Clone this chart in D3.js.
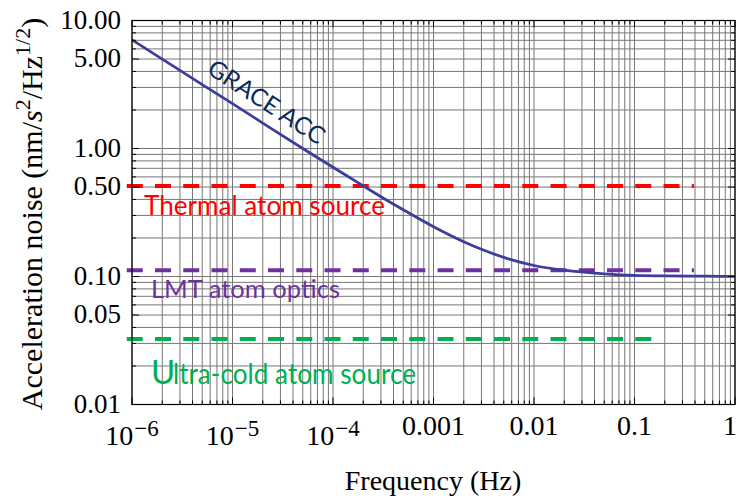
<!DOCTYPE html>
<html>
<head>
<meta charset="utf-8">
<script src="https://cdn.jsdelivr.net/npm/d3@7"></script>
<style>
  html, body { margin: 0; padding: 0; background: #fff; }
  svg { display: block; }
</style>
</head>
<body>
<svg id="chart" width="736" height="498"></svg>
<script>
// ---- data ----
const frequency = [1e-6, 2e-6, 5e-6, 1e-5, 2e-5, 5e-5, 1e-4, 2e-4, 3e-4, 5e-4, 1e-3, 2e-3, 3e-3, 5e-3, 1e-2, 2e-2, 5e-2, 0.1, 0.2, 0.5, 1];
const graceNoise = [7.07, 5.00, 3.16, 2.24, 1.58, 1.00, 0.714, 0.510, 0.420, 0.332, 0.245, 0.187, 0.163, 0.141, 0.122, 0.112, 0.105, 0.102, 0.101, 0.1005, 0.1002];

const levelNames = ["Thermal atom source", "LMT atom optics", "Ultra-cold atom source"];
const levelValues = [0.51, 0.112, 0.0325];
const levelFromFreq = [8.87e-7, 8.87e-7, 8.87e-7];
const levelToFreq = [0.39, 0.39, 0.15];
const levelColors = ["#ff0000", "#7030a0", "#00b050"];

const yTicks = [0.01, 0.05, 0.1, 0.5, 1, 5, 10];
const yTickLabels = ["0.01", "0.05", "0.10", "0.50", "1.00", "5.00", "10.00"];
const xTicks = [1e-6, 1e-5, 1e-4, 1e-3, 1e-2, 0.1, 1];
const xTickBase = ["10", "10", "10", "0.001", "0.01", "0.1", "1"];
const xTickExp = ["−6", "−5", "−4", "", "", "", ""];

// ---- layout ----
const svg = d3.select("#chart");
const L = 132, R = 735, T = 20.5, B = 404.5;
const x = d3.scaleLog().domain([1e-6, 1]).range([L, R]);
const y = d3.scaleLog().domain([0.01, 10]).range([B, T]);

// minor grid values
const xGrid = [];
for (let e = -6; e < 0; e++) for (let m = 1; m <= 9; m++) xGrid.push(m * Math.pow(10, e));
xGrid.push(1);
const yGrid = [];
for (let e = -2; e < 1; e++) for (let m = 1; m <= 9; m++) yGrid.push(m * Math.pow(10, e));
yGrid.push(10);

const grid = svg.append("g").attr("stroke", "#777").attr("stroke-width", 1);
grid.selectAll("line.v").data(xGrid).join("line").attr("class", "v")
  .attr("x1", d => x(d)).attr("x2", d => x(d)).attr("y1", T).attr("y2", B);
grid.selectAll("line.h").data(yGrid).join("line").attr("class", "h")
  .attr("y1", d => y(d)).attr("y2", d => y(d)).attr("x1", L).attr("x2", R);

// threshold dashed lines
const levels = levelNames.map((n, i) => ({ name: n, v: levelValues[i], f0: levelFromFreq[i], f1: levelToFreq[i], c: levelColors[i] }));
svg.append("g").selectAll("line").data(levels).join("line")
  .attr("x1", d => x(d.f0)).attr("x2", d => x(d.f1))
  .attr("y1", d => y(d.v)).attr("y2", d => y(d.v))
  .attr("stroke", d => d.c).attr("stroke-width", 4)
  .attr("stroke-dasharray", "16,12.25");

// GRACE curve
const pts = frequency.map((f, i) => [f, graceNoise[i]]);
const line = d3.line().x(d => x(d[0])).y(d => y(d[1])).curve(d3.curveMonotoneX);
svg.append("path").datum(pts).attr("d", line)
  .attr("fill", "none").attr("stroke", "#3d3d9b").attr("stroke-width", 2.7);

// annotations
const sans = "Lato, 'Open Sans', sans-serif";
svg.append("text").text("GRACE ACC")
  .attr("transform", "translate(262,109) rotate(33)")
  .attr("text-anchor", "middle").attr("font-family", sans).attr("font-size", 24)
  .attr("fill", "#0b2a5c").attr("textLength", 134).attr("lengthAdjust", "spacingAndGlyphs");

svg.append("text").text(levelNames[0]).attr("x", 144).attr("y", 215)
  .attr("font-family", sans).attr("font-size", 27).attr("fill", levelColors[0])
  .attr("textLength", 241).attr("lengthAdjust", "spacingAndGlyphs");
svg.append("text").text(levelNames[1]).attr("x", 151).attr("y", 298)
  .attr("font-family", sans).attr("font-size", 25).attr("fill", levelColors[1])
  .attr("textLength", 189).attr("lengthAdjust", "spacingAndGlyphs");
svg.append("text").text(levelNames[2].slice(0, 1)).attr("x", 151).attr("y", 384)
  .attr("font-family", sans).attr("font-size", 33).attr("fill", levelColors[2]);
svg.append("text").text(levelNames[2].slice(1)).attr("x", 173).attr("y", 384)
  .attr("font-family", sans).attr("font-size", 28).attr("fill", levelColors[2])
  .attr("textLength", 243).attr("lengthAdjust", "spacingAndGlyphs");

// frame
svg.append("rect").attr("x", L).attr("y", T).attr("width", R - L).attr("height", B - T)
  .attr("fill", "none").attr("stroke", "#000").attr("stroke-width", 1.2);

// ticks
const ticks = svg.append("g").attr("stroke", "#000").attr("stroke-width", 1);
const isMajorY = d => yTicks.some(t => Math.abs(Math.log10(t) - Math.log10(d)) < 1e-6);
const isMajorX = d => xTicks.some(t => Math.abs(Math.log10(t) - Math.log10(d)) < 1e-6);
yGrid.forEach(d => {
  const len = isMajorY(d) ? 7 : 4;
  ticks.append("line").attr("x1", L).attr("x2", L + len).attr("y1", y(d)).attr("y2", y(d));
  ticks.append("line").attr("x1", R).attr("x2", R - len).attr("y1", y(d)).attr("y2", y(d));
});
xGrid.forEach(d => {
  const len = isMajorX(d) ? 7 : 4;
  ticks.append("line").attr("y1", B).attr("y2", B - len).attr("x1", x(d)).attr("x2", x(d));
  ticks.append("line").attr("y1", T).attr("y2", T + len).attr("x1", x(d)).attr("x2", x(d));
});

// tick labels
const serif = "'Liberation Serif', 'Times New Roman', serif";
svg.append("g").selectAll("text").data(yTicks).join("text")
  .attr("x", 121).attr("y", d => y(d) + 8)
  .attr("text-anchor", "end").attr("font-family", serif).attr("font-size", 27)
  .text((d, i) => yTickLabels[i]);

const xl = svg.append("g").attr("font-family", serif).attr("font-size", 28).attr("text-anchor", "middle");
xTicks.forEach((t, i) => {
  const tx = xl.append("text").attr("x", Math.min(x(t), 730));
  if (xTickExp[i]) {
    tx.attr("y", 445);
    tx.append("tspan").text(xTickBase[i]);
    tx.append("tspan").attr("dy", -9).attr("dx", 1).attr("font-size", 23).text(xTickExp[i]);
  } else {
    tx.attr("y", 435).text(xTickBase[i]);
  }
});

// axis titles
svg.append("text").attr("x", 433).attr("y", 490).attr("text-anchor", "middle")
  .attr("font-family", serif).attr("font-size", 28).text("Frequency (Hz)");

const yt = svg.append("text").attr("transform", "translate(42,214) rotate(-90)")
  .attr("text-anchor", "middle").attr("font-family", serif).attr("font-size", 30);
yt.append("tspan").text("Acceleration noise (nm/");
yt.append("tspan").attr("font-style", "italic").text("s");
yt.append("tspan").attr("dy", -12).attr("font-size", 22).text("2");
yt.append("tspan").attr("dy", 12).text("/Hz");
yt.append("tspan").attr("dy", -12).attr("font-size", 22).text("1/2");
yt.append("tspan").attr("dy", 12).text(")");
</script>
</body>
</html>
